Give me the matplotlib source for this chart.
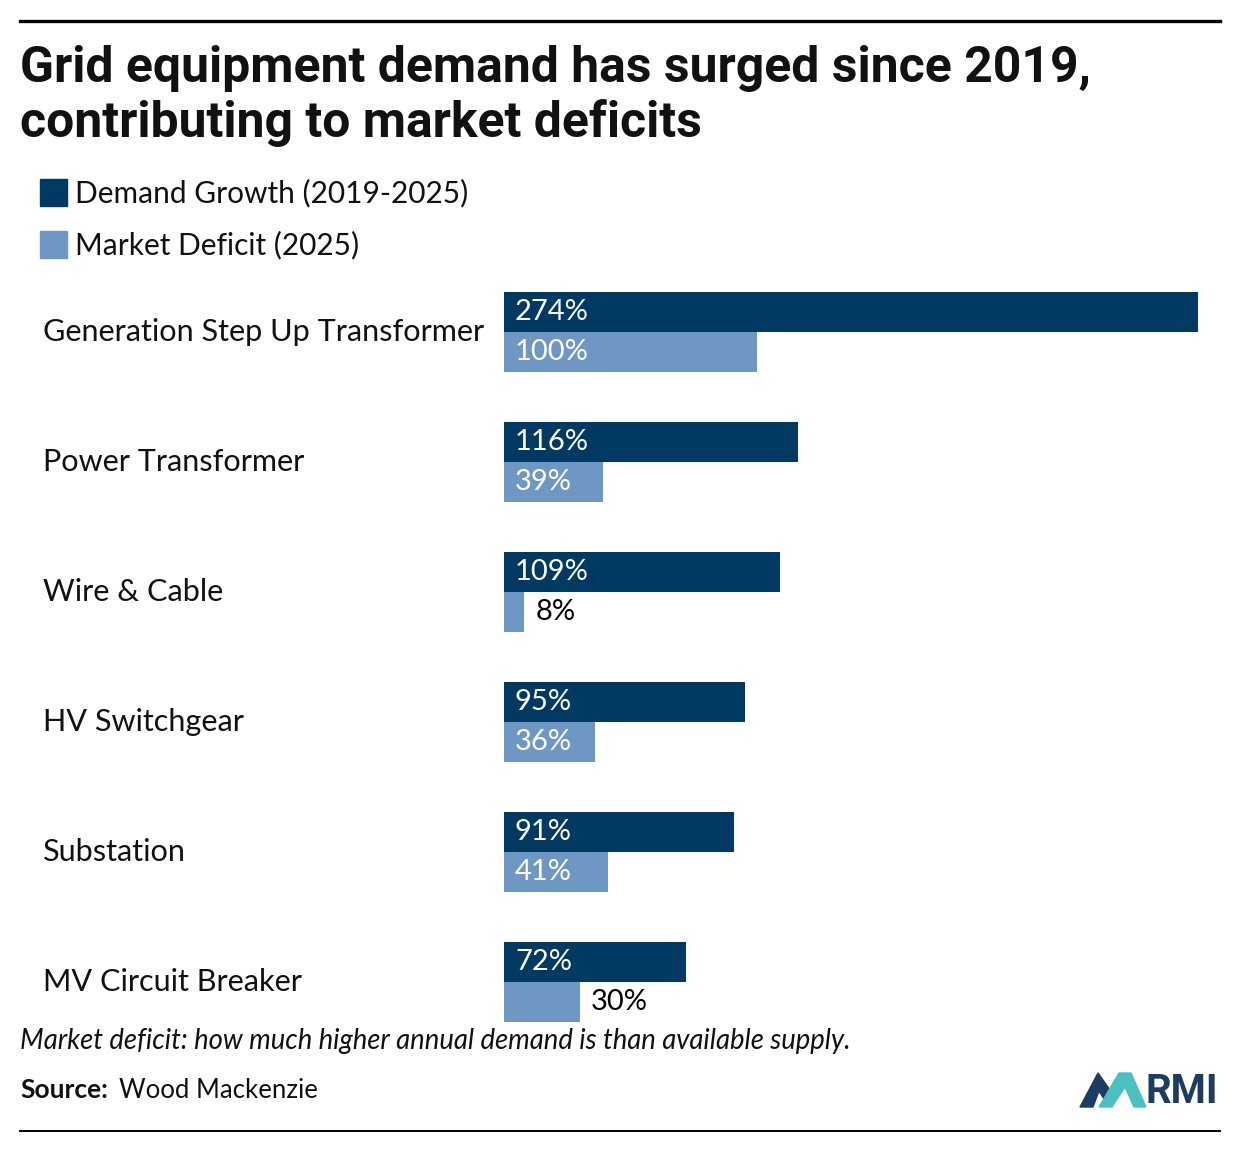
import matplotlib.pyplot as plt
from matplotlib.patches import Rectangle, Polygon
from matplotlib.lines import Line2D
import matplotlib.transforms as mtransforms

# DATA
categories = ["Generation Step Up Transformer", "Power Transformer", "Wire & Cable",
              "HV Switchgear", "Substation", "MV Circuit Breaker"]
demand_growth = [274, 116, 109, 95, 91, 72]   # % (2019-2025)
market_deficit = [100, 39, 8, 36, 41, 30]     # % (2025)
series_names = ["Demand Growth (2019-2025)", "Market Deficit (2025)"]

# STYLE
dark = "#003a63"
light = "#6e97c4"
font = "Lato"
W, H = 1240, 1152

fig = plt.figure(figsize=(W / 100, H / 100), dpi=100)


def fx(px):
    return px / W


def fy(py):
    return 1 - py / H


# axes covering bar area (pixel box 504..1198 x 292..1022)
ax = fig.add_axes([fx(504), fy(1022), fx(1198) - fx(504), (1022 - 292) / H])
step, bh = 130, 40
for i, (d, m) in enumerate(zip(demand_growth, market_deficit)):
    y0 = step * i
    ax.barh(y0 + bh / 2, d, height=bh, color=dark)
    ax.barh(y0 + 1.5 * bh, m, height=bh, color=light)
    for val, yc in ((d, y0 + bh / 2), (m, y0 + 1.5 * bh)):
        if val >= 33:  # label fits inside the bar
            ax.text(4.3, yc, f"{val}%", color="white", va="center", ha="left",
                    fontsize=21, family=font)
        else:
            ax.text(val + 4.3, yc, f"{val}%", color="black", va="center", ha="left",
                    fontsize=21, family=font)
ax.set_xlim(0, 274)
ax.set_ylim(step * (len(categories) - 1) + 2 * bh, 0)
ax.axis("off")

# category labels
trans = mtransforms.blended_transform_factory(fig.transFigure, ax.transData)
for i, c in enumerate(categories):
    ax.text(fx(43), step * i + bh, c, transform=trans, ha="left", va="center",
            fontsize=22.1, family=font, color="#111111")

# rules
fig.add_artist(Line2D([fx(20), fx(1220)], [fy(21), fy(21)], color="black", lw=2.4))
fig.add_artist(Line2D([fx(20), fx(1220)], [fy(1131), fy(1131)], color="black", lw=1.4))

# title
fig.text(fx(20), fy(69), "Grid equipment demand has surged since 2019,",
         ha="left", va="center", fontsize=35.9, fontweight="bold", family="Roboto",
         color="#111111")
fig.text(fx(20), fy(123), "contributing to market deficits",
         ha="left", va="center", fontsize=35.9, fontweight="bold", family="Roboto",
         color="#111111")

# legend
for k, (name, col) in enumerate(zip(series_names, [dark, light])):
    top = 179 + 52 * k
    fig.add_artist(Rectangle((fx(40), fy(top + 27)), fx(27), 27 / H, color=col,
                             transform=fig.transFigure))
    fig.text(fx(75), fy(top + 14), name, ha="left", va="center", fontsize=21.5,
             family=font, color="#111111")

# footnote and source
fig.text(fx(20), fy(1041), "Market deficit: how much higher annual demand is than available supply.",
         ha="left", va="center", fontsize=19.8, style="italic", family=font, color="#111111")
fig.text(fx(20), fy(1090), "Source:", ha="left", va="center", fontsize=19,
         fontweight="bold", family=font, color="#111111")
fig.text(fx(119), fy(1090), "Wood Mackenzie", ha="left", va="center", fontsize=18.5,
         family=font, color="#111111")

# RMI logo
navy = "#1d3c62"
teal = "#4cbfbf"
fig.add_artist(Polygon([(fx(1080), fy(1107)), (fx(1098), fy(1073)), (fx(1110), fy(1090)),
                        (fx(1104), fy(1099)), (fx(1099), fy(1091)), (fx(1093), fy(1107))],
                       closed=True, color=navy, transform=fig.transFigure))
fig.add_artist(Polygon([(fx(1099), fy(1107)), (fx(1119), fy(1073)), (fx(1131), fy(1073)),
                        (fx(1146), fy(1107)), (fx(1134), fy(1107)), (fx(1125), fy(1087)),
                        (fx(1112), fy(1107))],
                       closed=True, color=teal, transform=fig.transFigure))
fig.text(fx(1145), fy(1092), "RMI", ha="left", va="center", fontsize=29, fontweight="bold",
         family="Roboto", color=navy)

fig.savefig("out.png", dpi=100)
